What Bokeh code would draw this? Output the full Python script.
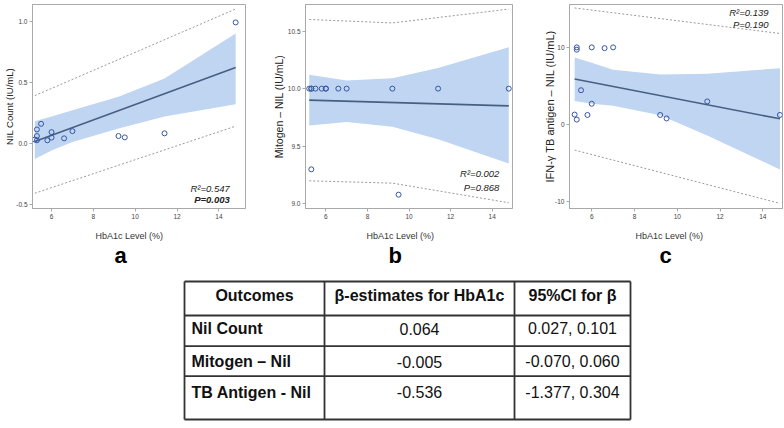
from bokeh.plotting import figure
from bokeh.layouts import row, column
from bokeh.models import Range1d, FixedTicker, Label, Title
from bokeh.embed import file_html
from bokeh.resources import INLINE
from bokeh.core.properties import value

FONT = "Liberation Sans"

# ---------------- data ----------------
hba1c = [5.2, 5.3, 5.3, 5.3, 5.5, 5.8, 6.0, 6.0, 6.6, 7.0, 9.2, 9.5, 11.4, 14.8]
nil_count = [0.03, 0.113, 0.059, 0.024, 0.159, 0.024, 0.091, 0.046, 0.04, 0.099, 0.059, 0.048, 0.081, 0.99]
mitogen_nil = [10.0, 10.0, 10.0, 9.30, 10.0, 10.0, 10.0, 10.0, 10.0, 10.0, 10.0, 9.08, 10.0, 10.0]
tb_antigen_nil = [1.3, 10.0, 9.7, 0.65, 4.45, 1.25, 10.0, 2.7, 9.9, 10.0, 1.25, 0.8, 3.0, 1.25]

fit_x = [5.2, 14.8]
a_fit = [0.015, 0.62]
b_fit = [9.90, 9.85]
c_fit = [5.9, 0.75]

a_band_x = [5.2, 6.0, 7.0, 9.2, 11.4, 14.8]
a_band_upper = [0.18, 0.22, 0.27, 0.38, 0.53, 0.90]
a_band_lower = [-0.13, -0.06, 0.01, 0.12, 0.22, 0.32]
b_band_x = [5.2, 7.0, 9.2, 11.4, 14.8]
b_band_upper = [10.12, 10.07, 10.09, 10.18, 10.36]
b_band_lower = [9.68, 9.71, 9.67, 9.56, 9.35]
c_band_x = [5.2, 6.0, 7.0, 9.2, 11.4, 14.8]
c_band_upper = [8.7, 8.0, 7.1, 6.5, 6.6, 7.3]
c_band_lower = [3.05, 2.7, 2.45, 1.2, -1.4, -5.8]

a_pi_x = [5.2, 14.8]
a_pi_upper = [0.39, 1.10]
a_pi_lower = [-0.41, 0.14]
b_pi_x = [5.2, 9.2, 14.8]
b_pi_upper = [10.60, 10.57, 10.69]
b_pi_lower = [9.20, 9.18, 9.01]
c_pi_x = [5.2, 14.8]
c_pi_upper = [15.1, 11.8]
c_pi_lower = [-3.3, -10.2]

a_stats = ["R\u00b2=0.547", "P=0.003"]
b_stats = ["R\u00b2=0.002", "P=0.868"]
c_stats = ["R\u00b2=0.139", "P=0.190"]

x_ticks = [6, 8, 10, 12, 14]
a_yticks = [-0.5, 0.0, 0.5, 1.0]
a_ytick_labels = ["-0.5", "0.0", "0.5", "1.0"]
b_yticks = [9.0, 9.5, 10.0, 10.5]
b_ytick_labels = ["9.0", "9.5", "10.0", "10.5"]
c_yticks = [-10, 0, 10]
c_ytick_labels = ["-10", "0", "10"]

x_label = "HbA1c Level (%)"
a_ylabel = "NIL Count (IU/mL)"
b_ylabel = "Mitogen \u2013 NIL (IU/mL)"
c_ylabel = "IFN-\u03b3 TB antigen \u2013 NIL (IU/mL)"

table_header = ["Outcomes", "\u03b2-estimates for HbA1c", "95%CI for \u03b2"]
table_outcomes = ["Nil Count", "Mitogen \u2013 Nil", "TB Antigen - Nil"]
table_beta = ["0.064", "-0.005", "-0.536"]
table_ci = ["0.027, 0.101", "-0.070, 0.060", "-1.377, 0.304"]

# ---------------- styling ----------------
BAND = "#bfd5f1"
FITC = "#475f80"
PTC = "#3656a3"
PIC = "#9a9a9a"
FRAME = "#a9a9a9"
TOP_H = 272


def panel(width, left, right, lab_standoff, xr, yr, yticks, ylabels, ylab, ylab_size,
          ys, band_x, band_up, band_lo, fit_y, pi_x, pi_up, pi_lo,
          stats, stat_x, stat_y, p_bold, letter, xlab_off, letter_off):
    p = figure(width=width, height=TOP_H, x_range=Range1d(*xr), y_range=Range1d(*yr),
               output_backend="svg", toolbar_location=None,
               min_border_left=left, min_border_right=right,
               min_border_top=4, min_border_bottom=61)
    p.grid.visible = False
    p.outline_line_color = FRAME
    p.background_fill_color = "white"
    p.border_fill_color = "white"
    for ax in (p.xaxis[0], p.yaxis[0]):
        ax.axis_line_color = FRAME
        ax.major_tick_line_color = FRAME
        ax.major_tick_in = 0
        ax.major_tick_out = 3
        ax.minor_tick_line_color = None
        ax.major_label_text_font = FONT
        ax.major_label_text_font_size = "6.5px"
        ax.major_label_text_color = "#444444"
        ax.major_label_standoff = 2
    # blank x-axis label used only as vertical spacing under the tick labels
    p.xaxis.axis_label = " "
    p.xaxis.axis_label_text_font_size = "1px"
    p.xaxis.axis_label_standoff = 3
    p.xaxis.ticker = FixedTicker(ticks=x_ticks)
    p.yaxis.ticker = FixedTicker(ticks=yticks)
    p.yaxis.major_label_overrides = {float(t): l for t, l in zip(yticks, ylabels)}
    p.yaxis.axis_label = ylab
    p.yaxis.axis_label_text_font = FONT
    p.yaxis.axis_label_text_font_size = ylab_size
    p.yaxis.axis_label_text_font_style = "normal"
    p.yaxis.axis_label_text_color = "#222222"
    p.yaxis.axis_label_standoff = lab_standoff

    p.varea(x=band_x, y1=band_lo, y2=band_up, fill_color=BAND, fill_alpha=1.0)
    p.line(fit_x, fit_y, line_color=FITC, line_width=1.6)
    p.line(pi_x, pi_up, line_color=PIC, line_dash="2 2", line_width=1)
    p.line(pi_x, pi_lo, line_color=PIC, line_dash="2 2", line_width=1)
    p.scatter(hba1c, ys, marker="circle", size=5, fill_color=None,
              line_color=PTC, line_width=1)

    for i, (txt, yy) in enumerate(zip(stats, stat_y)):
        style = "bold italic" if (p_bold and i == 1) else "italic"
        p.add_layout(Label(x=stat_x, y=yy, text=txt, text_align="right",
                           text_baseline="middle", text_font=FONT,
                           text_font_size="9.5px", text_font_style=style,
                           text_color="#222222"))

    p.add_layout(Title(text=x_label, align="left", offset=xlab_off, standoff=0,
                       vertical_align="bottom", text_font=FONT, text_font_size="9px",
                       text_font_style="normal", text_color="#333333"), "below")
    p.add_layout(Title(text=letter, align="left", offset=letter_off, standoff=5,
                       vertical_align="top", text_font=FONT, text_font_size="22px",
                       text_font_style="bold", text_color="#000000"), "below")
    return p


fa = panel(265, 32, 20, -2, (5.09, 15.27), (-0.535, 1.137), a_yticks, a_ytick_labels,
           a_ylabel, "9.5px", nil_count, a_band_x, a_band_upper, a_band_lower, a_fit,
           a_pi_x, a_pi_upper, a_pi_lower, a_stats, 14.52, [-0.37, -0.458], True,
           "a", 63, 82)
fb = panel(270, 40, 23, 0, (5.02, 14.98), (8.96, 10.73), b_yticks, b_ytick_labels,
           b_ylabel, "10.5px", mitogen_nil, b_band_x, b_band_upper, b_band_lower, b_fit,
           b_pi_x, b_pi_upper, b_pi_lower, b_stats, 14.35, [9.26, 9.14], False,
           "b", 61, 83)
fc = panel(249, 34, 2, -4, (4.96, 14.92), (-10.86, 15.55), c_yticks, c_ytick_labels,
           c_ylabel, "11px", tb_antigen_nil, c_band_x, c_band_upper, c_band_lower, c_fit,
           c_pi_x, c_pi_upper, c_pi_lower, c_stats, 14.27, [14.45, 12.9], False,
           "c", 66, 90)

# ---------------- table ----------------
TW, TH = 784, 152
ft = figure(width=TW, height=TH, x_range=Range1d(0, TW), y_range=Range1d(TH, 0),
            output_backend="svg", toolbar_location=None, min_border=0)
ft.axis.visible = False
ft.grid.visible = False
ft.outline_line_color = None
ft.background_fill_color = "white"
ft.border_fill_color = "white"

col_edges = [184, 324, 514, 630]
row_edges = [9, 43, 73.7, 103.7, 147]
ft.segment(x0=[col_edges[0]] * len(row_edges), x1=[col_edges[-1]] * len(row_edges),
           y0=row_edges, y1=row_edges, line_color="#333333", line_width=1.8)
ft.segment(x0=col_edges, x1=col_edges, y0=[row_edges[0]] * len(col_edges),
           y1=[row_edges[-1]] * len(col_edges), line_color="#333333", line_width=1.8)

col_centers = [(col_edges[i] + col_edges[i + 1]) / 2 for i in range(3)]
header_y = 23
row_y = [56.3, 89, 119.7]
tkw = dict(text_baseline="middle", text_font=value(FONT), text_font_size="16px",
           text_color="#111111")
ft.text(x=col_centers, y=[header_y] * 3, text=table_header, text_align="center",
        text_font_style="bold", **tkw)
ft.text(x=[col_edges[0] + 7] * 3, y=row_y, text=table_outcomes, text_align="left",
        text_font_style="bold", **tkw)
ft.text(x=[col_centers[1]] * 3, y=row_y, text=table_beta, text_align="center", **tkw)
ft.text(x=[col_centers[2]] * 3, y=row_y, text=table_ci, text_align="center", **tkw)

layout = column(row(fa, fb, fc), ft)
open("out.html", "w").write(file_html(layout, INLINE))
